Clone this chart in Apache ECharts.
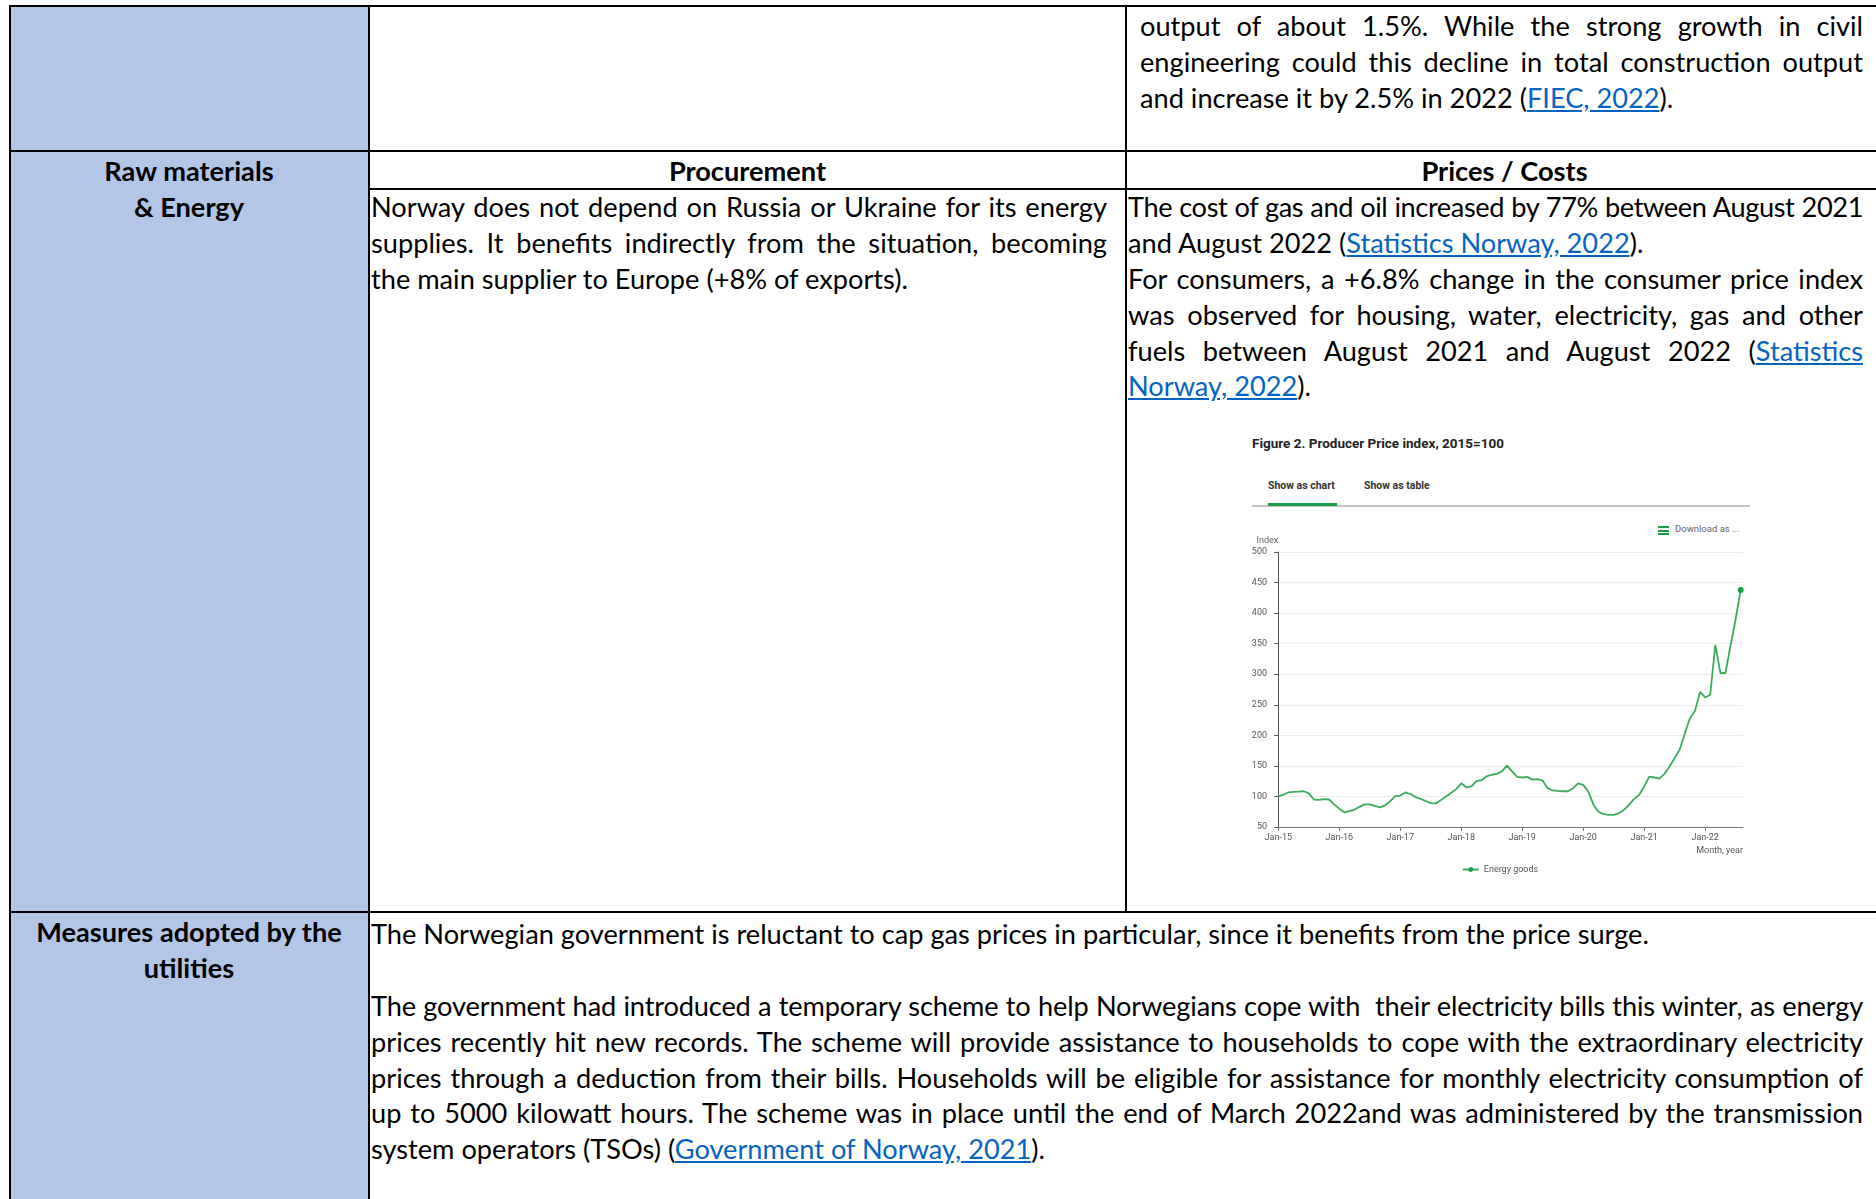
<!DOCTYPE html>
<html>
<head>
<meta charset="utf-8">
<script src="https://cdn.jsdelivr.net/npm/echarts@6/dist/echarts.min.js"></script>
<style>
  html, body { margin: 0; padding: 0; background: #fff; }
  body { width: 1876px; height: 1199px; overflow: hidden; position: relative;
         font-family: Lato, 'Liberation Sans', sans-serif; font-size: 27.2px; color: #000; }
  .fill { position: absolute; background: #b4c6e7; }
  .h { position: absolute; height: 2px; background: #000; }
  .v { position: absolute; width: 2px; background: #000; }
  .txt { position: absolute; line-height: 35.9px; }
  .txt > div { height: 35.9px; white-space: nowrap; }
  .j { text-align: justify; text-align-last: justify; }
  .c { text-align: center; font-weight: bold; }
  .tight { letter-spacing: -0.4px; }
  .tight2 { letter-spacing: -0.15px; }
  a { color: #0563c1; text-decoration: underline; }

  .fig { position: absolute; font-family: Roboto, 'Liberation Sans', sans-serif; }
  .figtitle { left: 1252px; top: 435px; font-size: 13.5px; font-weight: bold; color: #222; line-height: 16px; }
  .tab { top: 479px; font-size: 10.5px; font-weight: bold; color: #333; line-height: 14px; }
  .tabline { left: 1252px; top: 505px; width: 498px; height: 2px; background: #c4c4c4; }
  .tabactive { left: 1268px; top: 503px; width: 69px; height: 3px; background: #1a9d49; }
  .dl { left: 1675px; top: 523px; font-size: 9.5px; color: #666; line-height: 12px; }
  .bar { left: 1658px; width: 11px; height: 2px; background: #1a9d49; }
  #chart { position: absolute; left: 1240px; top: 525px; width: 520px; height: 360px; }
</style>
</head>
<body>

<!-- left column fill -->
<div class="fill" style="left:10px;top:6px;width:359px;height:1193px"></div>

<!-- grid lines -->
<div class="h" style="left:9px;top:5px;width:1867px"></div>
<div class="h" style="left:9px;top:150px;width:1867px"></div>
<div class="h" style="left:368px;top:188px;width:1508px"></div>
<div class="h" style="left:9px;top:911px;width:1867px"></div>
<div class="v" style="left:9px;top:5px;height:1194px"></div>
<div class="v" style="left:368px;top:5px;height:1194px"></div>
<div class="v" style="left:1125px;top:5px;height:908px"></div>

<!-- row 1 -->
<div class="txt" style="left:1140px;top:8px;width:723px">
  <div class="j">output of about 1.5%. While the strong growth in civil</div>
  <div class="j">engineering could this decline in total construction output</div>
  <div>and increase it by 2.5% in 2022 (<a>FIEC, 2022</a>).</div>
</div>

<!-- row 2 -->
<div class="txt c" style="left:10px;top:153px;width:358px">
  <div>Raw materials</div>
  <div>&amp; Energy</div>
</div>
<div class="txt c" style="left:370px;top:153px;width:755px"><div>Procurement</div></div>
<div class="txt c" style="left:1127px;top:153px;width:755px"><div>Prices / Costs</div></div>

<div class="txt" style="left:371px;top:189px;width:736px">
  <div class="j">Norway does not depend on Russia or Ukraine for its energy</div>
  <div class="j">supplies. It benefits indirectly from the situation, becoming</div>
  <div>the main supplier to Europe (+8% of exports).</div>
</div>

<div class="txt" style="left:1128px;top:189px;width:735px">
  <div class="j tight">The cost of gas and oil increased by 77% between August 2021</div>
  <div>and August 2022 (<a>Statistics Norway, 2022</a>).</div>
  <div class="j">For consumers, a +6.8% change in the consumer price index</div>
  <div class="j">was observed for housing, water, electricity, gas and other</div>
  <div class="j">fuels between August 2021 and August 2022 (<a>Statistics</a></div>
  <div><a>Norway, 2022</a>).</div>
</div>

<!-- embedded figure -->
<div class="fig figtitle">Figure 2. Producer Price index, 2015=100</div>
<div class="fig tab" style="left:1268px">Show as chart</div>
<div class="fig tab" style="left:1364px">Show as table</div>
<div class="fig tabline"></div>
<div class="fig tabactive"></div>
<div class="fig bar" style="top:526px"></div>
<div class="fig bar" style="top:529.5px"></div>
<div class="fig bar" style="top:533px"></div>
<div class="fig dl">Download as ...</div>
<div id="chart"></div>

<!-- row 3 -->
<div class="txt c" style="left:10px;top:914px;width:358px">
  <div>Measures adopted by the</div>
  <div>utilities</div>
</div>
<div class="txt" style="left:371px;top:916px;width:1492px">
  <div>The Norwegian government is reluctant to cap gas prices in particular, since it benefits from the price surge.</div>
  <div></div>
  <div class="j tight2">The government had introduced a temporary scheme to help Norwegians cope with&nbsp; their electricity bills this winter, as energy</div>
  <div class="j">prices recently hit new records. The scheme will provide assistance to households to cope with the extraordinary electricity</div>
  <div class="j">prices through a deduction from their bills. Households will be eligible for assistance for monthly electricity consumption of</div>
  <div class="j">up to 5000 kilowatt hours. The scheme was in place until the end of March 2022and was administered by the transmission</div>
  <div>system operators (TSOs) (<a>Government of Norway, 2021</a>).</div>
</div>

<script>
// producer price index, energy goods, 2015=100, monthly Jan-15 .. Aug-22
const tickLabels = ['Jan-15', 'Jan-16', 'Jan-17', 'Jan-18', 'Jan-19', 'Jan-20', 'Jan-21', 'Jan-22'];
const tickMonths = [0, 12, 24, 36, 48, 60, 72, 84];
const energyGoods = [
  100, 103, 106.5, 107.5, 108, 108.5, 105, 95, 94.5, 95.5, 95, 87,          // 2015
  80, 74, 76, 78.5, 83, 87, 87, 84.5, 82, 85.5, 92, 100.5,                  // 2016
  101.5, 106.5, 104, 99, 96, 92.5, 89, 88.5, 94, 100, 105.5, 112,           // 2017
  121.5, 115, 116.5, 125, 126.5, 133, 135.5, 137, 141, 150.5, 141, 132,     // 2018
  131, 132, 127.5, 128.5, 126, 113.5, 110, 109, 108.5, 108.5, 113.5, 121.5, // 2019
  119, 108, 87, 75, 71, 70, 70, 72.5, 78, 86, 96, 102.5,                    // 2020
  116, 132.5, 131, 129, 137, 149, 163, 177, 203, 228, 240, 271,             // 2021
  262, 266.5, 348, 302, 302, 347, 390, 438                                  // 2022
];
const seriesName = 'Energy goods';

const chart = echarts.init(document.getElementById('chart'));
const last = energyGoods.length - 1;

chart.setOption({
  animation: false,
  textStyle: { fontFamily: 'Roboto' },
  grid: { left: 35, right: 17, top: 27, bottom: 58 },
  legend: {
    bottom: 6,
    left: 'center',
    itemWidth: 16,
    itemHeight: 6,
    itemGap: 4,
    textStyle: { fontSize: 9, color: '#555' },
    data: [seriesName]
  },
  xAxis: {
    type: 'value',
    min: -0.65,
    max: 91.45,
    name: 'Month, year',
    nameLocation: 'end',
    nameGap: 0,
    nameTextStyle: { fontSize: 9, color: '#555', align: 'right', verticalAlign: 'top', padding: [19, 0, 0, 0] },
    axisLine: { lineStyle: { color: '#777', width: 1 } },
    axisTick: { customValues: tickMonths, length: 4, lineStyle: { color: '#777' } },
    axisLabel: {
      customValues: tickMonths,
      formatter: v => tickLabels[tickMonths.indexOf(v)],
      fontSize: 9, color: '#555', margin: 6
    },
    splitLine: { show: false }
  },
  yAxis: {
    type: 'value',
    min: 50,
    max: 500,
    interval: 50,
    name: 'Index',
    nameLocation: 'end',
    nameGap: 7,
    nameTextStyle: { fontSize: 9, color: '#666', align: 'right' },
    axisLine: { show: true, lineStyle: { color: '#555', width: 1 } },
    axisTick: { show: true, length: 4, lineStyle: { color: '#555' } },
    axisLabel: { fontSize: 9, color: '#555', margin: 8 },
    splitLine: { lineStyle: { color: '#ececec', width: 1 } }
  },
  series: [{
    name: seriesName,
    type: 'line',
    data: energyGoods.map((v, i) => [i, v]),
    symbol: 'circle',
    symbolSize: (val, p) => (p.dataIndex === last ? 6 : 0),
    showSymbol: true,
    lineStyle: { color: '#3aad5b', width: 1.8 },
    itemStyle: { color: '#1a9d49' },
    emphasis: { disabled: true }
  }]
});
</script>
</body>
</html>
